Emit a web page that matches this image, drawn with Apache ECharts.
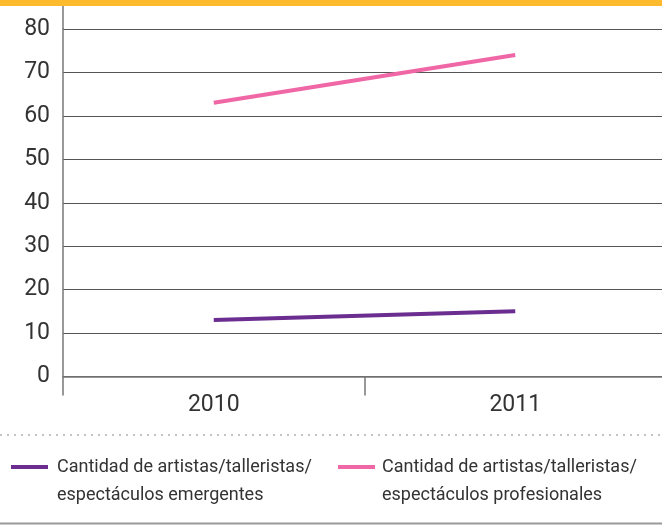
<!DOCTYPE html>
<html>
<head>
<meta charset="utf-8">
<script src="https://cdn.jsdelivr.net/npm/echarts@6/dist/echarts.min.js"></script>
<style>html,body{margin:0;padding:0;background:#fff}#c{width:662px;height:525px}</style>
</head>
<body>
<div id="c"></div>
<script>
var categories = ['2010', '2011'];
var seriesNames = ['Cantidad de artistas/talleristas/\nespectáculos emergentes', 'Cantidad de artistas/talleristas/\nespectáculos profesionales'];
var emergentes = [13, 15];
var profesionales = [63, 74];
var yTicks = [0, 10, 20, 30, 40, 50, 60, 70, 80];

var FONT = '"Liberation Sans Narrow", "Roboto", sans-serif';
var PURPLE = '#6b2d90';
var PINK = '#f067a6';
var legendIcon = 'path://M0,0h37v4h-37z M0,32h0.01v0.01h-0.01z';

var chart = echarts.init(document.getElementById('c'), null, {renderer: 'canvas'});
chart.setOption({
  animation: false,
  backgroundColor: '#fff',
  grid: {left: 63, width: 603, top: 29, height: 347.5, containLabel: false, outerBoundsMode: 'none'},
  xAxis: {
    type: 'category',
    data: categories,
    boundaryGap: true,
    axisLine: {lineStyle: {color: '#777', width: 1.5}},
    axisTick: {show: true, length: 19, inside: false, lineStyle: {color: '#777', width: 1.5}},
    axisLabel: {fontFamily: FONT, fontSize: 23, color: '#333', margin: 17},
    splitLine: {show: false}
  },
  yAxis: {
    type: 'value',
    min: yTicks[0],
    max: yTicks[yTicks.length - 1],
    interval: 10,
    axisLine: {show: true, lineStyle: {color: '#777', width: 1.5}},
    axisTick: {show: false},
    axisLabel: {fontFamily: FONT, fontSize: 23, color: '#333', margin: 13},
    splitLine: {show: true, lineStyle: {color: '#555', width: 1}}
  },
  legend: [
    {
      left: 6, top: 448, orient: 'horizontal',
      data: [seriesNames[0]],
      icon: legendIcon, itemWidth: 37, itemHeight: 32, itemGap: 0,
      textStyle: {fontFamily: FONT, fontSize: 18, color: '#333', lineHeight: 28, padding: [0, 0, 0, 4]},
      selectedMode: false
    },
    {
      left: 333, top: 448, orient: 'horizontal',
      data: [seriesNames[1]],
      icon: legendIcon, itemWidth: 37, itemHeight: 32, itemGap: 0,
      textStyle: {fontFamily: FONT, fontSize: 18, color: '#333', lineHeight: 28, padding: [0, 0, 0, 2]},
      selectedMode: false
    }
  ],
  series: [
    {
      name: seriesNames[0], type: 'line', data: emergentes,
      showSymbol: false, symbol: 'none',
      lineStyle: {color: PURPLE, width: 4}, itemStyle: {color: PURPLE}
    },
    {
      name: seriesNames[1], type: 'line', data: profesionales,
      showSymbol: false, symbol: 'none',
      lineStyle: {color: PINK, width: 4}, itemStyle: {color: PINK}
    }
  ],
  graphic: [
    {type: 'rect', shape: {x: 0, y: 0, width: 662, height: 6}, style: {fill: '#fdba2c'}, silent: true},
    {type: 'line', shape: {x1: 63, y1: 6, x2: 63, y2: 29}, style: {stroke: '#777', lineWidth: 1.5}, silent: true},
    {type: 'line', shape: {x1: 0, y1: 435, x2: 662, y2: 435}, style: {stroke: '#888', lineWidth: 1, lineDash: [2, 5]}, silent: true},
    {type: 'line', shape: {x1: 0, y1: 523.5, x2: 662, y2: 523.5}, style: {stroke: '#999', lineWidth: 2}, silent: true}
  ]
});
</script>
</body>
</html>
